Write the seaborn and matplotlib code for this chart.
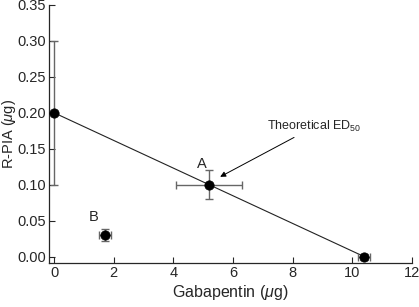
import matplotlib
matplotlib.use("Agg")
import matplotlib.pyplot as plt
import seaborn as sns
import pandas as pd

# isobologram points: gabapentin dose vs R-PIA dose
gaba = [0.0, 5.2, 1.7, 10.4]
rpia = [0.20, 0.10, 0.03, 0.0]
gaba_err = [0.0, 1.1, 0.2, 0.2]
rpia_err = [0.10, 0.02, 0.008, 0.004]

# additive line between the two single-drug ED50s
line_x = [0.0, 10.4]
line_y = [0.20, 0.0]

sns.set_style("ticks")
plt.rcParams["font.family"] = ["Liberation Sans", "DejaVu Sans"]
plt.rcParams["mathtext.fontset"] = "custom"
plt.rcParams["mathtext.rm"] = "Liberation Sans"
plt.rcParams["mathtext.it"] = "Liberation Sans:italic"

df = pd.DataFrame({"gaba": gaba, "rpia": rpia})

fig = plt.figure(figsize=(4.19, 3.07), dpi=100)
ax = fig.add_axes([0.117, 0.143, 0.866, 0.841])

ax.plot(line_x, line_y, color="#222222", lw=0.8, zorder=1)
ax.errorbar(gaba, rpia, xerr=gaba_err, yerr=rpia_err, fmt="none",
            ecolor="#666666", elinewidth=1.0, capsize=3, capthick=1.0, zorder=2)
sns.scatterplot(data=df, x="gaba", y="rpia", ax=ax, color="black", s=45,
                edgecolor="black", zorder=3, legend=False)

ax.text(4.8, 0.123, "A", fontsize=10.5)
ax.text(1.15, 0.049, "B", fontsize=10.5)
ax.annotate("Theoretical ED$_{50}$", xy=(5.57, 0.111), xytext=(7.15, 0.176),
            fontsize=9, arrowprops=dict(arrowstyle="-|>", color="black", lw=0.7,
                                        shrinkA=0, shrinkB=0, mutation_scale=8))

ax.set_xlim(-0.17, 12)
ax.set_ylim(-0.009, 0.35)
ax.set_xticks(range(0, 13, 2))
ax.set_yticks([i * 0.05 for i in range(8)])
ax.set_yticklabels([f"{i * 0.05:.2f}" for i in range(8)])
ax.tick_params(direction="in", length=4, labelsize=10.5, width=0.8, pad=2)
for s in ["left", "bottom"]:
    ax.spines[s].set_linewidth(0.9)
sns.despine(ax=ax)

ax.set_xlabel(r"Gabapentin ($\mu$g)", fontsize=11.5, labelpad=2)
ax.set_ylabel(r"R-PIA ($\mu$g)", fontsize=10.5)
ax.yaxis.set_label_coords(-0.085, 0.5)

fig.savefig("out.png", dpi=100)
